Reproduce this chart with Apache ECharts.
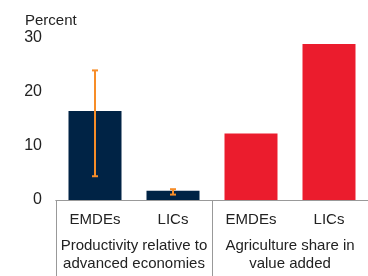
<!DOCTYPE html>
<html>
<head>
<meta charset="utf-8">
<script src="https://cdn.jsdelivr.net/npm/echarts@6/dist/echarts.min.js"></script>
<style>
  html, body { margin: 0; padding: 0; background: #fff; }
  #chart { width: 368px; height: 276px; }
</style>
</head>
<body>
<div id="chart"></div>
<script>
// categories and values
var categories = ['EMDEs', 'LICs', 'EMDEs', 'LICs'];
var groups = ['Productivity relative to\nadvanced economies', 'Agriculture share in\nvalue added'];
var productivity = [16.5, 1.7, '-', '-'];
var agriShare = ['-', '-', 12.3, 28.9];
var errLow = [4.4, 1.0];
var errHigh = [24, 2.0];

var font = 'Liberation Sans, Arial, sans-serif';
var txt = '#222';

var chart = echarts.init(document.getElementById('chart'));

var errData = [];
for (var i = 0; i < errLow.length; i++) {
    errData.push([i, errLow[i], errHigh[i]]);
}

chart.setOption({
    animation: false,
    title: {
        text: 'Percent',
        left: 20,
        top: 8,
        textStyle: { fontSize: 15, fontWeight: 'normal', color: txt, fontFamily: font }
    },
    grid: { left: 56, right: -8, top: 38, bottom: 76 },
    xAxis: [
        {
            type: 'category',
            data: categories,
            axisLine: { show: true, lineStyle: { color: '#999', width: 1 } },
            axisTick: { show: false },
            axisLabel: { color: txt, fontSize: 15, fontFamily: font, margin: 12, interval: 0 }
        },
        {
            type: 'category',
            data: groups,
            position: 'bottom',
            axisLine: { show: true, lineStyle: { color: '#999', width: 1 } },
            axisTick: { show: true, interval: 0, length: 80, lineStyle: { color: '#999', width: 1 } },
            axisLabel: { color: txt, fontSize: 15, fontFamily: font, margin: 37, lineHeight: 18, interval: 0, hideOverlap: false }
        }
    ],
    yAxis: {
        type: 'value',
        min: 0,
        max: 30,
        interval: 10,
        axisLine: { show: false },
        axisTick: { show: false },
        splitLine: { show: false },
        axisLabel: { color: txt, fontSize: 16, fontFamily: font, margin: 14 }
    },
    series: [
        {
            type: 'bar',
            data: productivity,
            barWidth: 53,
            barGap: '-100%',
            itemStyle: { color: '#002345' }
        },
        {
            type: 'bar',
            data: agriShare,
            barWidth: 53,
            barGap: '-100%',
            itemStyle: { color: '#EB1C2D' }
        },
        {
            type: 'custom',
            data: errData,
            z: 10,
            renderItem: function (params, api) {
                var x = api.value(0);
                var lo = api.coord([x, api.value(1)]);
                var hi = api.coord([x, api.value(2)]);
                var cap = 3;
                var style = { stroke: '#F78D28', lineWidth: 2 };
                return {
                    type: 'group',
                    children: [
                        { type: 'line', shape: { x1: lo[0], y1: lo[1], x2: hi[0], y2: hi[1] }, style: style },
                        { type: 'line', shape: { x1: lo[0] - cap, y1: lo[1], x2: lo[0] + cap, y2: lo[1] }, style: style },
                        { type: 'line', shape: { x1: hi[0] - cap, y1: hi[1], x2: hi[0] + cap, y2: hi[1] }, style: style }
                    ]
                };
            }
        }
    ]
});
</script>
</body>
</html>
